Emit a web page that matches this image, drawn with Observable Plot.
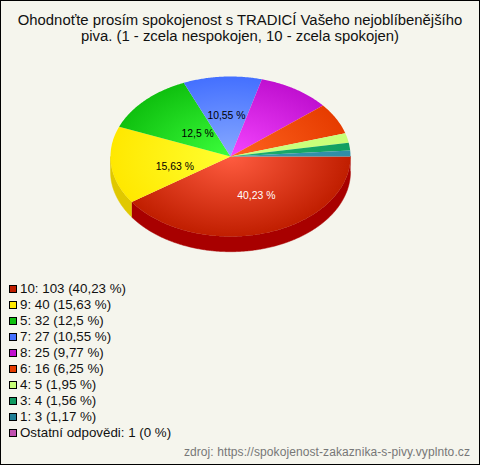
<!DOCTYPE html>
<html><head><meta charset="utf-8">
<script src="https://cdn.jsdelivr.net/npm/d3@7"></script>
<script src="https://cdn.jsdelivr.net/npm/@observablehq/plot@0.6"></script>
<style>
html,body{margin:0;padding:0;background:#f5f5ed;}
#frame{position:relative;box-sizing:border-box;width:480px;height:465px;border:1px solid #000;background:#f5f5ed;font-family:"Liberation Sans",Arial,sans-serif;color:#111;overflow:hidden;}
#title{position:absolute;left:0;right:0;top:11px;text-align:center;font-size:14.87px;line-height:16px;}
#plot{position:absolute;left:0;top:53px;}
#plot svg{background:transparent;display:block;}
#legend{position:absolute;left:8px;top:280px;font-size:13.33px;line-height:16px;}
#legend .row{display:flex;align-items:center;height:16px;}
#legend i{display:block;box-sizing:border-box;width:8px;height:8px;border:1px solid #000;margin-right:3px;}
#source{position:absolute;right:9px;top:444px;font-size:12px;line-height:14px;color:#777;letter-spacing:.09px;}
</style></head>
<body><div id="frame">
<div id="title">Ohodnoťte prosím spokojenost s TRADICÍ Vašeho nejoblíbenějšího<br>piva. (1 - zcela nespokojen, 10 - zcela spokojen)</div>
<div id="plot"></div>
<div id="legend"></div>
<div id="source">zdroj: https://spokojenost-zakaznika-s-pivy.vyplnto.cz</div>
</div>
<script>
const categories = ["10","9","5","7","8","6","4","3","1"];
const counts = [103,40,32,27,25,16,5,4,3];
const percents = ["40,23","15,63","12,5","10,55","9,77","6,25","1,95","1,56","1,17"];
const otherLabel = "Ostatní odpovědi";
const otherCount = 1;
const otherPercent = "0";
const otherColor = "#c050b0";
const legendColors = ["#c01e00","#ffe800","#0fc00f","#4470ff","#c010d0","#e63c00","#c8ff78","#0f9a60","#1f7f96"];
const edgeColors = ["#c01e00","#ffe800","#0fc00f","#4470ff","#c010d0","#e63c00","#c8ff78","#10a060","#2e8ea6"];
const innerColors = ["#ff5c40","#ffff30","#3cff3c","#88aaff","#f545ff","#ff6420","#ccff80","#20b070","#3a98b0"];
const sideColors = ["#a80000","#e0c800"];

const total = d3.sum(counts);
const TAU = 2 * Math.PI;
const depth = 0.19;
const cum = d3.cumsum(counts);
const startOf = i => (i ? cum[i - 1] : 0) / total * TAU;
const endOf = i => cum[i] / total * TAU;
const arc = (a, b) => { const n = Math.max(2, Math.ceil((b - a) / 0.01)); return d3.range(n + 1).map(k => a + (b - a) * k / n); };

const wedges = categories.flatMap((c, i) => [
  {key: c, x: 0, y: 0},
  ...arc(startOf(i), endOf(i)).map(t => ({key: c, x: Math.cos(t), y: Math.sin(t)}))
]);
// Extruded rim: only the part of each slice on the front half of the disc
const sides = [0, 1].flatMap(i => {
  const a = startOf(i), b = Math.min(endOf(i), Math.PI), ts = arc(a, b);
  return [
    ...ts.map(t => ({key: categories[i], x: Math.cos(t), y: Math.sin(t)})),
    ...ts.slice().reverse().map(t => ({key: categories[i], x: Math.cos(t), y: Math.sin(t) + depth}))
  ];
});
const labelAt = i => { const t = (startOf(i) + endOf(i)) / 2; return [{x: Math.cos(t) / 2, y: Math.sin(t) / 2, text: percents[i] + " %"}]; };
const labelMark = (i, fill, dx, dy) => Plot.text(labelAt(i), {x: "x", y: "y", text: "text", fill, dx, dy, fontSize: 10.4, fontFamily: '"Liberation Sans",Arial,sans-serif'});

const gradients = () => (_i, scales) => {
  const defs = d3.create("svg:defs");
  const cx = scales.x(0), cy = scales.y(0), rx = scales.x(1) - cx, ry = scales.y(1) - cy;
  categories.forEach((c, i) => {
    const g = defs.append("radialGradient").attr("id", "grad" + i).attr("gradientUnits", "userSpaceOnUse")
      .attr("cx", 0).attr("cy", 0).attr("r", 1).attr("gradientTransform", `translate(${cx},${cy}) scale(${rx},${ry})`);
    g.append("stop").attr("offset", "0%").attr("stop-color", innerColors[i]);
    g.append("stop").attr("offset", "100%").attr("stop-color", edgeColors[i]);
  });
  return defs.node();
};

const chart = Plot.plot({
  width: 478, height: 225, margin: 0,
  style: {background: "transparent"},
  x: {axis: null, domain: [-1, 1], range: [109, 349]},
  y: {axis: null, domain: [-1, 1], range: [22, 182]},
  color: {type: "ordinal", domain: categories, range: categories.map((_, i) => `url(#grad${i})`)},
  marks: [
    gradients(),
    Plot.line(sides.filter(d => d.key === categories[0]), {x: "x", y: "y", fill: sideColors[0], stroke: sideColors[0], strokeWidth: 0.5}),
    Plot.line(sides.filter(d => d.key === categories[1]), {x: "x", y: "y", fill: sideColors[1], stroke: sideColors[1], strokeWidth: 0.5}),
    Plot.line(wedges, {x: "x", y: "y", z: "key", fill: "key", strokeWidth: 0}),
    labelMark(0, "#fff", 8, 1),
    labelMark(1, "#000", 4, 6),
    labelMark(2, "#000", 10, 5),
    labelMark(3, "#000", 0, -1)
  ]
});
document.getElementById("plot").append(chart);

const legend = d3.select("#legend");
const rows = categories.map((c, i) => ({color: legendColors[i], text: `${c}: ${counts[i]} (${percents[i]} %)`}));
rows.push({color: otherColor, text: `${otherLabel}: ${otherCount} (${otherPercent} %)`});
rows.forEach(r => {
  const row = legend.append("div").attr("class", "row");
  row.append("i").style("background", r.color);
  row.append("span").text(r.text);
});
</script>
</body></html>
